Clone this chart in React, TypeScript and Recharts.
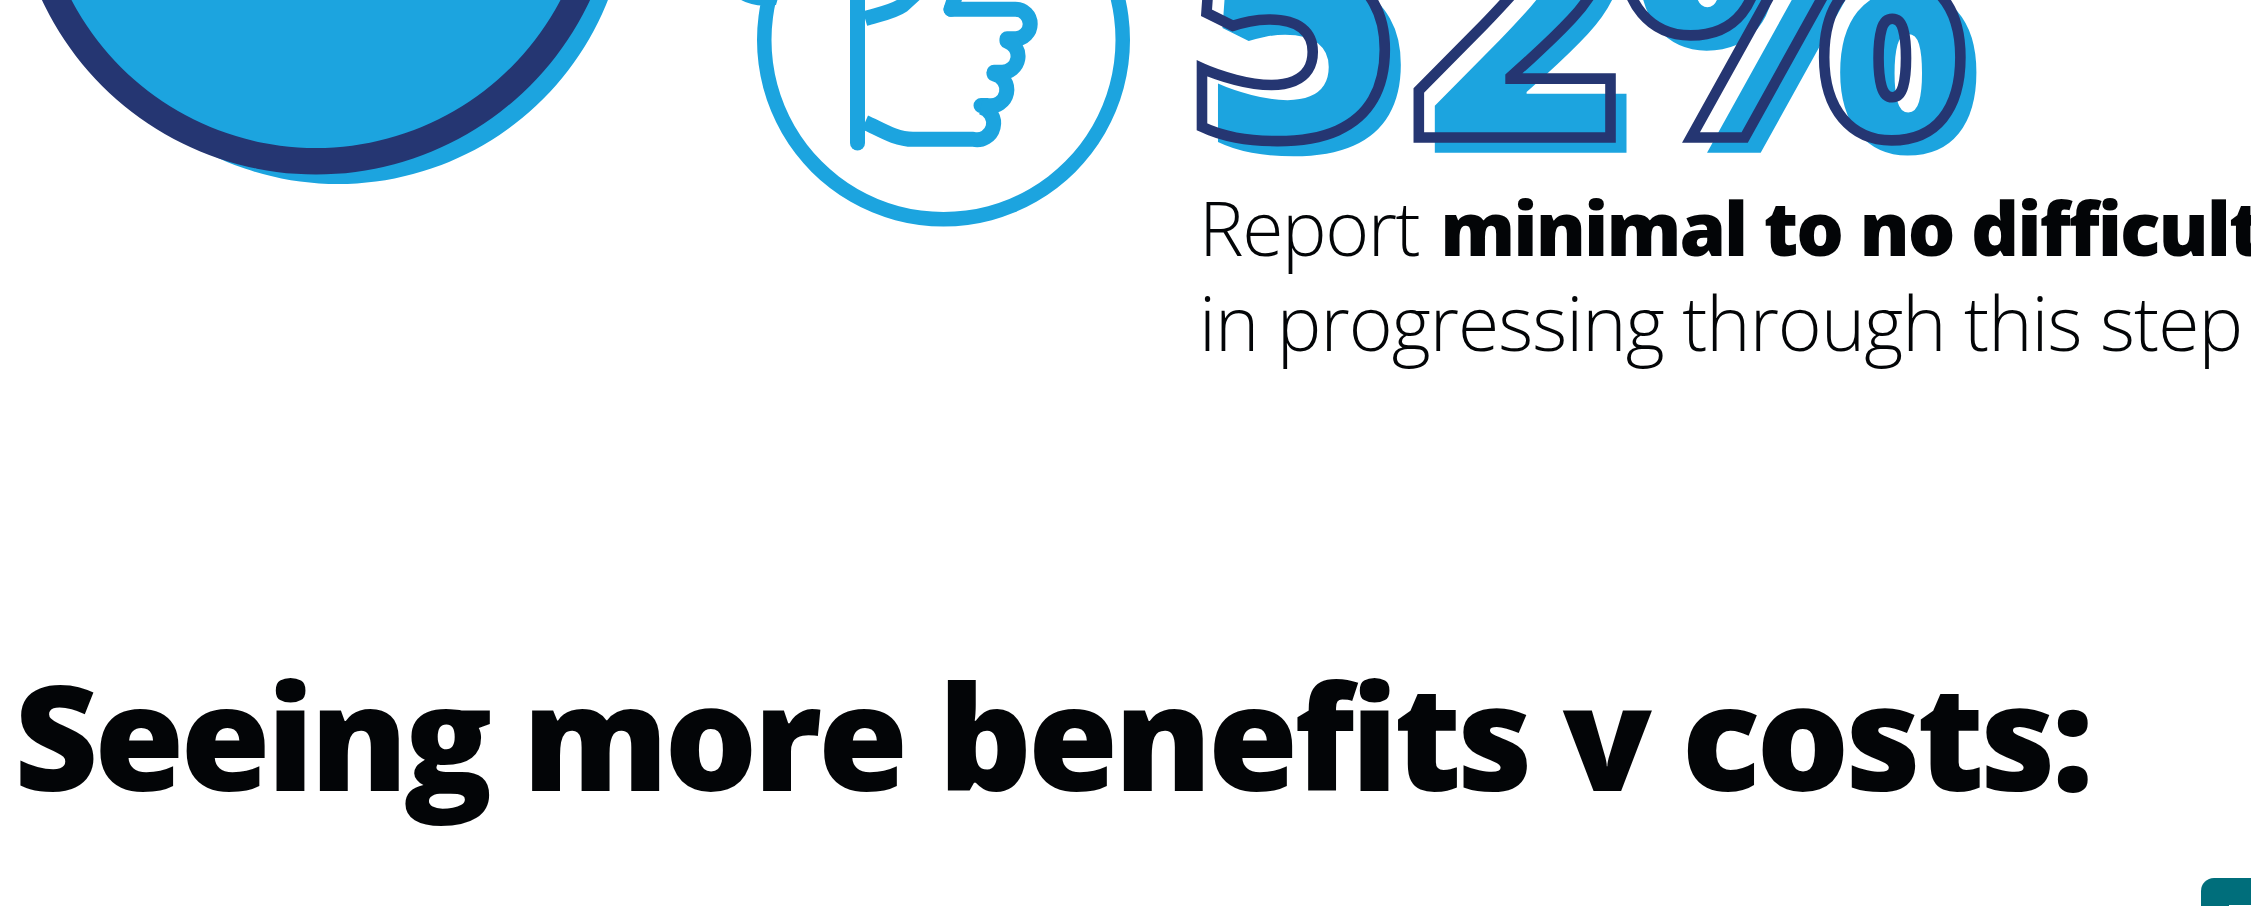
import React from 'react';
import { PieChart, Pie, Cell, Rectangle } from 'recharts';

// Concentric discs of the headline gauge and the icon badge.
const gaugeBacking = [{ name: 'backing', value: 100 }];
const gaugeRing = [{ name: 'ring', value: 100 }];
const gaugeCore = [{ name: 'core', value: 100 }];
const badgeRing = [{ name: 'badge', value: 100 }];

const headlineValue = '52%';
const captionIntro = 'Report ';
const captionStrong = 'minimal to no difficulty';
const captionRest = 'in progressing through this step';
const sectionTitle = 'Seeing more benefits v costs:';

const SKY = '#1ca4df';
const NAVY = '#253672';
const TEAL = '#006e7b';
const INK = '#030507';
const FONT = '"Open Sans", sans-serif';

// Outline of the thumbs-up glyph inside the badge.
const ThumbIcon = () => (
  <g fill="none" stroke={SKY} strokeWidth={15} strokeLinecap="round" strokeLinejoin="round">
    <path d="M857.5 -20 V143" />
    <path d="M865 18.5 C880 14 893 12 903 5 L915 -6" strokeLinecap="butt" />
    <path d="M951 9.3 L956 -6" />
    <path d="M951 9.3 H1015.5 A14.7 14.7 0 0 1 1015.5 38.7 H1007" />
    <path d="M1007 41 A16 16 0 0 1 1001.5 72.2 H994" />
    <path d="M994 74 A16 16 0 0 1 987.5 105.5 H981" />
    <path d="M981 107 A16.5 16.5 0 0 1 973 139.3 H913 C895 139.3 880 129 865 122.4" strokeLinecap="butt" />
    <path d="M738 -2 Q752 8 776 5 L778 -2 Z" fill={SKY} stroke="none" />
  </g>
);

export default function App() {
  return (
    <div style={{ position: 'absolute', left: 0, top: 0, width: 2251, height: 906, overflow: 'hidden', background: '#fff' }}>
      <PieChart width={2251} height={906} margin={{ top: 0, right: 0, bottom: 0, left: 0 }}>
        <Pie data={gaugeBacking} dataKey="value" cx={338} cy={-106} innerRadius={0} outerRadius={290} startAngle={90} endAngle={450} stroke="none" isAnimationActive={false}>
          <Cell fill={SKY} />
        </Pie>
        <Pie data={gaugeRing} dataKey="value" cx={316} cy={-128} innerRadius={0} outerRadius={302.5} startAngle={90} endAngle={450} stroke="none" isAnimationActive={false}>
          <Cell fill={NAVY} />
        </Pie>
        <Pie data={gaugeCore} dataKey="value" cx={316} cy={-128} innerRadius={0} outerRadius={276} startAngle={90} endAngle={450} stroke="none" isAnimationActive={false}>
          <Cell fill={SKY} />
        </Pie>
        <Pie data={badgeRing} dataKey="value" cx={943.5} cy={40} innerRadius={172} outerRadius={186.5} startAngle={90} endAngle={450} stroke="none" isAnimationActive={false}>
          <Cell fill={SKY} />
        </Pie>
        <ThumbIcon />
        <text x={1201} y={152.7} dx="0 6 -8" fontFamily={FONT} fontWeight={800} fontSize={370} fill={SKY}>{headlineValue}</text>
        <text x={1185} y={137.5} dx="0 6 -8" fontFamily={FONT} fontWeight={800} fontSize={370} fill="none" stroke={NAVY} strokeWidth={10.6}>{headlineValue}</text>
        <text x={1199} y={255.7} fontFamily={FONT} fontSize={75} letterSpacing={-1.4} fill={INK}>
          <tspan fontWeight={300}>{captionIntro}</tspan>
          <tspan dx={3} fontWeight={800} letterSpacing={-2}>{captionStrong}</tspan>
        </text>
        <text x={1199} y={351} fontFamily={FONT} fontSize={75} fontWeight={300} letterSpacing={-0.95} fill={INK}>{captionRest}</text>
        <text x={14} y={790.7} fontFamily={FONT} fontSize={146} fontWeight={800} letterSpacing={-4} fill={INK}>{sectionTitle}</text>
        <Rectangle x={2201} y={878} width={70} height={50} radius={13} fill={TEAL} />
        <Rectangle x={2229} y={905} width={22} height={1} fill="#ffffff" />
      </PieChart>
    </div>
  );
}
